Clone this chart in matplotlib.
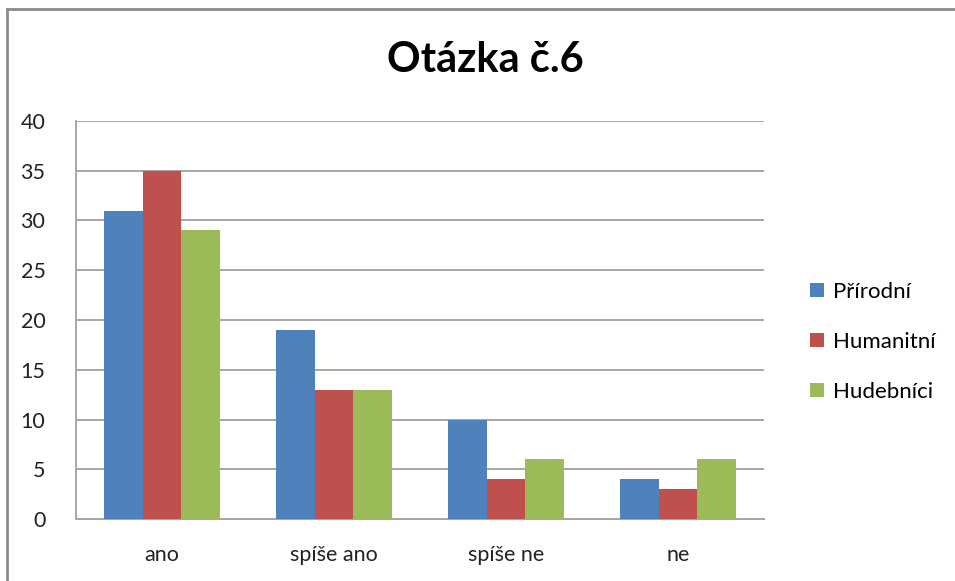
import matplotlib
matplotlib.use('Agg')
import matplotlib.pyplot as plt
from matplotlib.lines import Line2D
from matplotlib.patches import Patch
import numpy as np

plt.rcParams['font.family'] = ['Lato', 'DejaVu Sans']

# data
categories = ['ano', 'spíše ano', 'spíše ne', 'ne']
series_names = ['Přírodní', 'Humanitní', 'Hudebníci']
prirodni = [31, 19, 10, 4]
humanitni = [35, 13, 4, 3]
hudebnici = [29, 13, 6, 6]
colors = ['#4F81BD', '#C0504D', '#9BBB59']

W, H = 955, 581
fig = plt.figure(figsize=(W / 100, H / 100), dpi=100)
ax = fig.add_axes([76 / W, (H - 519) / H, (764 - 76) / W, (519 - 121) / H])

x = np.arange(len(categories))
bw = 0.223
for k, vals in enumerate([prirodni, humanitni, hudebnici]):
    ax.bar(x + (k - 1) * bw, vals, width=bw, color=colors[k], zorder=3)

ax.set_xlim(-0.5, len(categories) - 0.5)
ax.set_ylim(0, 40)
ax.set_yticks(np.arange(0, 41, 5))
ax.set_xticks(x)
ax.set_xticklabels(categories)
ax.tick_params(axis='both', length=0, labelsize=15.5, colors='#222222')
ax.tick_params(axis='y', pad=22)
ax.tick_params(axis='x', pad=19)
ax.yaxis.grid(True, color='#a6a6a6', linewidth=1.4, zorder=0)
for s in ['top', 'right']:
    ax.spines[s].set_visible(False)
for s in ['left', 'bottom']:
    ax.spines[s].set_color('#a6a6a6')
    ax.spines[s].set_linewidth(1.4)

fig.text(485 / W, 1 - 60 / H, 'Otázka č.6', ha='center', va='center',
         fontsize=30, fontweight='bold', color='black')

handles = [Patch(facecolor=c, edgecolor='none') for c in colors]
fig.legend(handles, series_names, loc='center left',
           bbox_to_anchor=(790 / W, 1 - 342 / H), frameon=False,
           fontsize=16, handlelength=0.62, handleheight=0.62,
           handletextpad=0.4, labelspacing=1.35)

# outer chart frame
fig.add_artist(Line2D([7 / W, 1], [1 - 9 / H, 1 - 9 / H], color='#8c8c8c', linewidth=2))
fig.add_artist(Line2D([7 / W, 7 / W], [0, 1 - 9 / H], color='#8c8c8c', linewidth=2))

fig.savefig('out.png', dpi=100)
